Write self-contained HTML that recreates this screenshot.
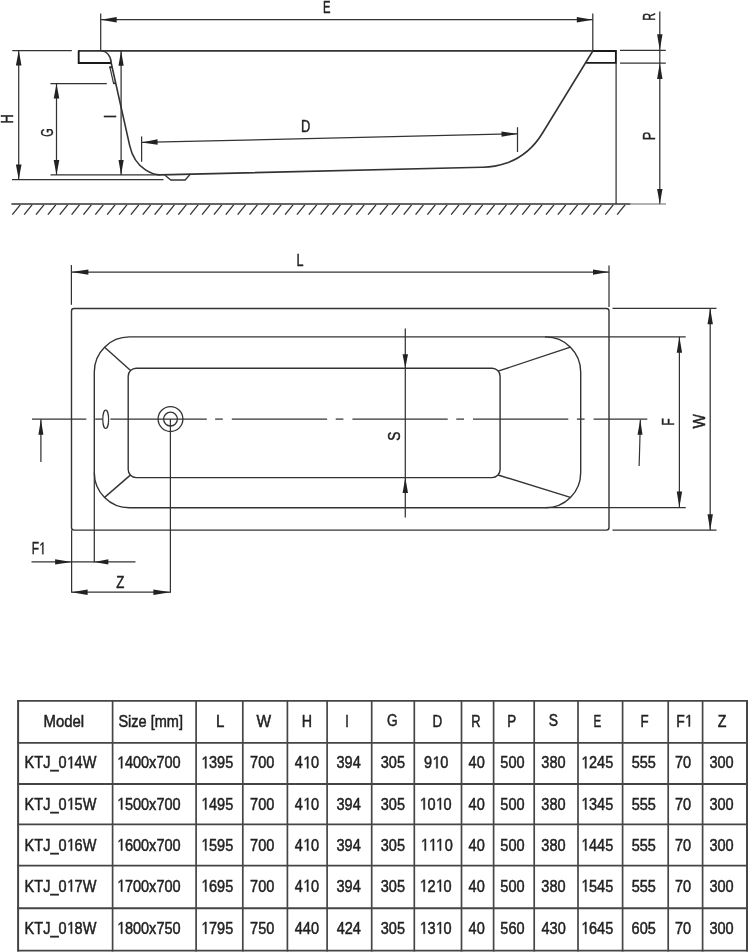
<!DOCTYPE html>
<html><head><meta charset="utf-8"><style>
html,body{margin:0;padding:0;background:#fff;}
body{width:748px;height:952px;overflow:hidden;}
svg{display:block;font-family:"Liberation Sans",sans-serif;filter:grayscale(1);}
</style></head><body>
<svg width="748" height="952" viewBox="0 0 748 952">
<line x1="100.7" y1="13.4" x2="100.7" y2="50.5" stroke="#333" stroke-width="1.25"/>
<line x1="592.8" y1="13.6" x2="592.8" y2="50.5" stroke="#333" stroke-width="1.25"/>
<line x1="100.7" y1="19.7" x2="592.8" y2="19.7" stroke="#333" stroke-width="1.25"/>
<path d="M100.70 19.70L116.70 17.00L116.70 22.40Z" fill="#222"/>
<path d="M592.80 19.70L576.80 22.40L576.80 17.00Z" fill="#222"/>
<text transform="translate(323.12 12.78) scale(0.663 1)" font-size="17" fill="#222" stroke="#222" stroke-width="0.45">E</text>
<line x1="78" y1="50.8" x2="616" y2="50.8" stroke="#333" stroke-width="1.7"/>
<line x1="12.3" y1="50.6" x2="71.8" y2="50.6" stroke="#333" stroke-width="1.25"/>
<path d="M78.7 50.8 L78.7 63 L111.2 63" stroke="#1a1a1a" stroke-width="1.9" fill="none"/>
<path d="M100.7 50.8 A10.5 12.2 0 0 1 111.2 63" stroke="#333" stroke-width="1.5" fill="none"/>
<path d="M109.2 67.2 L112.2 67.2" stroke="#333" stroke-width="1.9" fill="none"/>
<path d="M109.9 67.2 L113.5 83.2" stroke="#333" stroke-width="1.2" fill="none"/>
<path d="M113.0 83.2 L116.0 83.2" stroke="#333" stroke-width="1.9" fill="none"/>
<path d="M111.2 63 L129.75 145.81 C135.41 171.06 155.92 174.95 160.36 174.84 L481.96 167.29 C484.71 167.22 520.47 168.99 542.24 133.48 L592.8 51" stroke="#333" stroke-width="1.6" fill="none"/>
<path d="M592.8 51 L615.9 51 L615.9 62.9 L586.2 62.9" stroke="#1a1a1a" stroke-width="1.9" fill="none"/>
<line x1="616.1" y1="62.9" x2="616.1" y2="204" stroke="#333" stroke-width="1.25"/>
<path d="M164.7 175 L170.8 180 L185.2 180 L190.4 174" stroke="#333" stroke-width="1.3" fill="none"/>
<line x1="50.5" y1="83.6" x2="106.8" y2="83.6" stroke="#333" stroke-width="1.25"/>
<line x1="50.5" y1="174.9" x2="160" y2="174.9" stroke="#333" stroke-width="1.25"/>
<line x1="12" y1="179.6" x2="163.5" y2="179.6" stroke="#333" stroke-width="1.25"/>
<line x1="18.7" y1="50.6" x2="18.7" y2="179.6" stroke="#333" stroke-width="1.25"/>
<path d="M18.70 50.60L21.50 65.60L15.90 65.60Z" fill="#222"/>
<path d="M18.70 179.60L15.90 164.60L21.50 164.60Z" fill="#222"/>
<text transform="translate(12.78 123.39) rotate(-90) scale(0.754 1)" font-size="17" fill="#222" stroke="#222" stroke-width="0.45">H</text>
<line x1="56.5" y1="83.6" x2="56.5" y2="174.9" stroke="#333" stroke-width="1.25"/>
<path d="M56.50 83.60L59.30 98.60L53.70 98.60Z" fill="#222"/>
<path d="M56.50 174.90L53.70 159.90L59.30 159.90Z" fill="#222"/>
<text transform="translate(52.67 136.73) rotate(-90) scale(0.641 1)" font-size="17" fill="#222" stroke="#222" stroke-width="0.45">G</text>
<line x1="121.1" y1="50.8" x2="121.1" y2="174.9" stroke="#333" stroke-width="1.25"/>
<path d="M121.10 50.80L123.70 65.80L118.50 65.80Z" fill="#222"/>
<path d="M121.10 174.90L118.50 159.90L123.70 159.90Z" fill="#222"/>
<text transform="translate(115.58 118.13) rotate(-90) scale(0.750 1)" font-size="17" fill="#222" stroke="#222" stroke-width="0.45">I</text>
<line x1="141.6" y1="136.4" x2="141.6" y2="161.8" stroke="#333" stroke-width="1.25"/>
<line x1="517.5" y1="127.2" x2="517.5" y2="152" stroke="#333" stroke-width="1.25"/>
<line x1="141.6" y1="142.4" x2="517.5" y2="133.8" stroke="#333" stroke-width="1.25"/>
<path d="M141.60 142.40L157.53 139.33L157.66 144.73Z" fill="#222"/>
<path d="M517.50 133.80L501.57 136.87L501.44 131.47Z" fill="#222"/>
<text transform="translate(300.91 131.58) scale(0.758 1)" font-size="17" fill="#222" stroke="#222" stroke-width="0.45">D</text>
<line x1="620" y1="50.3" x2="665.8" y2="50.3" stroke="#333" stroke-width="1.25"/>
<line x1="620" y1="63" x2="665.8" y2="63" stroke="#333" stroke-width="1.25"/>
<line x1="659.8" y1="11.6" x2="659.8" y2="204" stroke="#333" stroke-width="1.25"/>
<path d="M659.80 50.30L657.10 34.30L662.50 34.30Z" fill="#222"/>
<path d="M659.80 63.00L662.50 79.00L657.10 79.00Z" fill="#222"/>
<path d="M659.80 204.00L657.10 189.00L662.50 189.00Z" fill="#222"/>
<text transform="translate(654.57 20.76) rotate(-90) scale(0.645 1)" font-size="17" fill="#222" stroke="#222" stroke-width="0.45">R</text>
<text transform="translate(654.77 140.28) rotate(-90) scale(0.751 1)" font-size="17" fill="#222" stroke="#222" stroke-width="0.45">P</text>
<line x1="11.4" y1="204" x2="630.6" y2="204" stroke="#333" stroke-width="1.7"/>
<line x1="630.6" y1="204" x2="666" y2="204" stroke="#666" stroke-width="1.1"/>
<line x1="12.3" y1="214.7" x2="20.2" y2="204.8" stroke="#333" stroke-width="1.3"/>
<line x1="24.16" y1="214.7" x2="32.06" y2="204.8" stroke="#333" stroke-width="1.3"/>
<line x1="36.02" y1="214.7" x2="43.92" y2="204.8" stroke="#333" stroke-width="1.3"/>
<line x1="47.88" y1="214.7" x2="55.78" y2="204.8" stroke="#333" stroke-width="1.3"/>
<line x1="59.74" y1="214.7" x2="67.64" y2="204.8" stroke="#333" stroke-width="1.3"/>
<line x1="71.6" y1="214.7" x2="79.5" y2="204.8" stroke="#333" stroke-width="1.3"/>
<line x1="83.46" y1="214.7" x2="91.36" y2="204.8" stroke="#333" stroke-width="1.3"/>
<line x1="95.32" y1="214.7" x2="103.22" y2="204.8" stroke="#333" stroke-width="1.3"/>
<line x1="107.18" y1="214.7" x2="115.08" y2="204.8" stroke="#333" stroke-width="1.3"/>
<line x1="119.04" y1="214.7" x2="126.94" y2="204.8" stroke="#333" stroke-width="1.3"/>
<line x1="130.9" y1="214.7" x2="138.8" y2="204.8" stroke="#333" stroke-width="1.3"/>
<line x1="142.76" y1="214.7" x2="150.66" y2="204.8" stroke="#333" stroke-width="1.3"/>
<line x1="154.62" y1="214.7" x2="162.52" y2="204.8" stroke="#333" stroke-width="1.3"/>
<line x1="166.48" y1="214.7" x2="174.38" y2="204.8" stroke="#333" stroke-width="1.3"/>
<line x1="178.34" y1="214.7" x2="186.24" y2="204.8" stroke="#333" stroke-width="1.3"/>
<line x1="190.2" y1="214.7" x2="198.1" y2="204.8" stroke="#333" stroke-width="1.3"/>
<line x1="202.06" y1="214.7" x2="209.96" y2="204.8" stroke="#333" stroke-width="1.3"/>
<line x1="213.92" y1="214.7" x2="221.82" y2="204.8" stroke="#333" stroke-width="1.3"/>
<line x1="225.78" y1="214.7" x2="233.68" y2="204.8" stroke="#333" stroke-width="1.3"/>
<line x1="237.64" y1="214.7" x2="245.54" y2="204.8" stroke="#333" stroke-width="1.3"/>
<line x1="249.5" y1="214.7" x2="257.4" y2="204.8" stroke="#333" stroke-width="1.3"/>
<line x1="261.36" y1="214.7" x2="269.26" y2="204.8" stroke="#333" stroke-width="1.3"/>
<line x1="273.22" y1="214.7" x2="281.12" y2="204.8" stroke="#333" stroke-width="1.3"/>
<line x1="285.08" y1="214.7" x2="292.98" y2="204.8" stroke="#333" stroke-width="1.3"/>
<line x1="296.94" y1="214.7" x2="304.84" y2="204.8" stroke="#333" stroke-width="1.3"/>
<line x1="308.8" y1="214.7" x2="316.7" y2="204.8" stroke="#333" stroke-width="1.3"/>
<line x1="320.66" y1="214.7" x2="328.56" y2="204.8" stroke="#333" stroke-width="1.3"/>
<line x1="332.52" y1="214.7" x2="340.42" y2="204.8" stroke="#333" stroke-width="1.3"/>
<line x1="344.38" y1="214.7" x2="352.28" y2="204.8" stroke="#333" stroke-width="1.3"/>
<line x1="356.24" y1="214.7" x2="364.14" y2="204.8" stroke="#333" stroke-width="1.3"/>
<line x1="368.1" y1="214.7" x2="376.0" y2="204.8" stroke="#333" stroke-width="1.3"/>
<line x1="379.96" y1="214.7" x2="387.86" y2="204.8" stroke="#333" stroke-width="1.3"/>
<line x1="391.82" y1="214.7" x2="399.72" y2="204.8" stroke="#333" stroke-width="1.3"/>
<line x1="403.68" y1="214.7" x2="411.58" y2="204.8" stroke="#333" stroke-width="1.3"/>
<line x1="415.54" y1="214.7" x2="423.44" y2="204.8" stroke="#333" stroke-width="1.3"/>
<line x1="427.4" y1="214.7" x2="435.3" y2="204.8" stroke="#333" stroke-width="1.3"/>
<line x1="439.26" y1="214.7" x2="447.16" y2="204.8" stroke="#333" stroke-width="1.3"/>
<line x1="451.12" y1="214.7" x2="459.02" y2="204.8" stroke="#333" stroke-width="1.3"/>
<line x1="462.98" y1="214.7" x2="470.88" y2="204.8" stroke="#333" stroke-width="1.3"/>
<line x1="474.84" y1="214.7" x2="482.74" y2="204.8" stroke="#333" stroke-width="1.3"/>
<line x1="486.7" y1="214.7" x2="494.6" y2="204.8" stroke="#333" stroke-width="1.3"/>
<line x1="498.56" y1="214.7" x2="506.46" y2="204.8" stroke="#333" stroke-width="1.3"/>
<line x1="510.42" y1="214.7" x2="518.32" y2="204.8" stroke="#333" stroke-width="1.3"/>
<line x1="522.28" y1="214.7" x2="530.18" y2="204.8" stroke="#333" stroke-width="1.3"/>
<line x1="534.14" y1="214.7" x2="542.04" y2="204.8" stroke="#333" stroke-width="1.3"/>
<line x1="546.0" y1="214.7" x2="553.9" y2="204.8" stroke="#333" stroke-width="1.3"/>
<line x1="557.86" y1="214.7" x2="565.76" y2="204.8" stroke="#333" stroke-width="1.3"/>
<line x1="569.72" y1="214.7" x2="577.62" y2="204.8" stroke="#333" stroke-width="1.3"/>
<line x1="581.58" y1="214.7" x2="589.48" y2="204.8" stroke="#333" stroke-width="1.3"/>
<line x1="593.44" y1="214.7" x2="601.34" y2="204.8" stroke="#333" stroke-width="1.3"/>
<line x1="605.3" y1="214.7" x2="613.2" y2="204.8" stroke="#333" stroke-width="1.3"/>
<line x1="617.16" y1="214.7" x2="625.06" y2="204.8" stroke="#333" stroke-width="1.3"/>
<line x1="71.4" y1="265" x2="71.4" y2="304.8" stroke="#333" stroke-width="1.25"/>
<line x1="609.0" y1="265.6" x2="609.0" y2="307.1" stroke="#333" stroke-width="1.25"/>
<line x1="71.4" y1="272.1" x2="609.0" y2="272.1" stroke="#333" stroke-width="1.25"/>
<path d="M71.40 272.10L88.40 269.40L88.40 274.80Z" fill="#222"/>
<path d="M609.00 272.10L593.00 274.80L593.00 269.40Z" fill="#222"/>
<text transform="translate(296.53 265.77) scale(0.742 1)" font-size="17" fill="#222" stroke="#222" stroke-width="0.45">L</text>
<rect x="71.5" y="308.5" width="537.5" height="221.6" rx="2.5" fill="none" stroke="#333" stroke-width="1.4"/>
<rect x="94.3" y="336.9" width="486.4" height="170.8" rx="35" fill="none" stroke="#333" stroke-width="1.4"/>
<rect x="128.2" y="368.2" width="371.9" height="109.4" rx="8" fill="none" stroke="#333" stroke-width="1.4"/>
<line x1="104.6" y1="347.2" x2="130.6" y2="370.6" stroke="#333" stroke-width="1.4"/>
<line x1="104.6" y1="497.4" x2="130.6" y2="474.9" stroke="#333" stroke-width="1.4"/>
<line x1="570.4" y1="347.2" x2="498.0" y2="371.2" stroke="#333" stroke-width="1.4"/>
<line x1="570.4" y1="497.4" x2="498.0" y2="475.0" stroke="#333" stroke-width="1.4"/>
<line x1="545" y1="336.8" x2="685.7" y2="336.8" stroke="#333" stroke-width="1.25"/>
<line x1="545" y1="507.6" x2="685.7" y2="507.6" stroke="#333" stroke-width="1.25"/>
<line x1="612.5" y1="308.3" x2="716.5" y2="308.3" stroke="#333" stroke-width="1.25"/>
<line x1="612.5" y1="530.2" x2="716.5" y2="530.2" stroke="#333" stroke-width="1.25"/>
<line x1="710.2" y1="308.3" x2="710.2" y2="530.2" stroke="#333" stroke-width="1.25"/>
<path d="M710.20 308.30L712.90 324.30L707.50 324.30Z" fill="#222"/>
<path d="M710.20 530.20L707.50 514.20L712.90 514.20Z" fill="#222"/>
<text transform="translate(704.88 428.59) rotate(-90) scale(0.899 1)" font-size="17" fill="#222" stroke="#222" stroke-width="0.45">W</text>
<line x1="679.4" y1="336.8" x2="679.4" y2="507.6" stroke="#333" stroke-width="1.25"/>
<path d="M679.40 336.80L682.10 352.80L676.70 352.80Z" fill="#222"/>
<path d="M679.40 507.60L676.70 491.60L682.10 491.60Z" fill="#222"/>
<text transform="translate(674.17 425.42) rotate(-90) scale(0.697 1)" font-size="17" fill="#222" stroke="#222" stroke-width="0.45">F</text>
<line x1="405.3" y1="328.4" x2="405.3" y2="517.4" stroke="#333" stroke-width="1.25"/>
<path d="M405.30 368.20L402.60 354.20L408.00 354.20Z" fill="#222"/>
<path d="M405.30 477.60L408.00 493.10L402.60 493.10Z" fill="#222"/>
<text transform="translate(399.97 440.66) rotate(-90) scale(0.800 1)" font-size="17" fill="#222" stroke="#222" stroke-width="0.45">S</text>
<line x1="32" y1="419.1" x2="86.3" y2="419.1" stroke="#333" stroke-width="1.25"/>
<line x1="95.2" y1="419.1" x2="102.4" y2="419.1" stroke="#333" stroke-width="1.25"/>
<line x1="110.4" y1="419.1" x2="206.8" y2="419.1" stroke="#333" stroke-width="1.25"/>
<line x1="215.1" y1="419.1" x2="222.8" y2="419.1" stroke="#333" stroke-width="1.25"/>
<line x1="231.8" y1="419.1" x2="327.1" y2="419.1" stroke="#333" stroke-width="1.25"/>
<line x1="335.7" y1="419.1" x2="343.4" y2="419.1" stroke="#333" stroke-width="1.25"/>
<line x1="352.4" y1="419.1" x2="447.7" y2="419.1" stroke="#333" stroke-width="1.25"/>
<line x1="456.3" y1="419.1" x2="464.0" y2="419.1" stroke="#333" stroke-width="1.25"/>
<line x1="473.0" y1="419.1" x2="568.3" y2="419.1" stroke="#333" stroke-width="1.25"/>
<line x1="576.9" y1="419.1" x2="584.6" y2="419.1" stroke="#333" stroke-width="1.25"/>
<line x1="593.6" y1="419.1" x2="647.3" y2="419.1" stroke="#333" stroke-width="1.25"/>
<ellipse cx="105.7" cy="419.3" rx="2.9" ry="9.2" fill="none" stroke="#333" stroke-width="1.2"/>
<circle cx="170.5" cy="419.1" r="12.4" fill="none" stroke="#333" stroke-width="1.3"/>
<circle cx="170.5" cy="419.1" r="6.9" fill="none" stroke="#333" stroke-width="1.3"/>
<line x1="170.4" y1="419.1" x2="170.4" y2="592.7" stroke="#333" stroke-width="1.25"/>
<line x1="71.6" y1="530.2" x2="71.6" y2="592.7" stroke="#333" stroke-width="1.25"/>
<line x1="94.3" y1="472.6" x2="94.3" y2="562.6" stroke="#333" stroke-width="1.25"/>
<line x1="31.5" y1="561.9" x2="135.5" y2="561.9" stroke="#333" stroke-width="1.25"/>
<path d="M71.60 561.90L55.10 564.60L55.10 559.20Z" fill="#222"/>
<path d="M94.30 561.90L108.30 559.20L108.30 564.60Z" fill="#222"/>
<text transform="translate(31.65 554.20) scale(0.700 1)" font-size="17" fill="#222" stroke="#222" stroke-width="0.45">F </text>
<path transform="translate(38.92 554.20) scale(0.00581 -0.00830)" d="M585 0V1237L267 1010V1180L600 1409H766V0Z" fill="#222" stroke="#222" stroke-width="54.2"/>
<line x1="71.6" y1="592.2" x2="170.4" y2="592.2" stroke="#333" stroke-width="1.25"/>
<path d="M71.60 592.20L87.60 589.50L87.60 594.90Z" fill="#222"/>
<path d="M170.40 592.20L153.40 594.90L153.40 589.50Z" fill="#222"/>
<text transform="translate(116.29 588.17) scale(0.782 1)" font-size="17" fill="#222" stroke="#222" stroke-width="0.45">Z</text>
<line x1="40.9" y1="461.9" x2="40.9" y2="419.3" stroke="#333" stroke-width="1.25"/>
<path d="M40.90 419.30L43.40 434.80L38.40 434.80Z" fill="#222"/>
<path d="M639.1 465.9 Q640.0 440 640.3 419.8" stroke="#333" stroke-width="1.2" fill="none"/>
<path d="M640.30 419.80L642.50 434.85L637.50 434.75Z" fill="#222"/>
<line x1="17.200000000000003" y1="700.9" x2="747.9" y2="700.9" stroke="#454545" stroke-width="1.8"/>
<line x1="17.200000000000003" y1="742.8" x2="747.9" y2="742.8" stroke="#454545" stroke-width="1.8"/>
<line x1="17.200000000000003" y1="784.0" x2="747.9" y2="784.0" stroke="#454545" stroke-width="1.8"/>
<line x1="17.200000000000003" y1="824.35" x2="747.9" y2="824.35" stroke="#454545" stroke-width="1.8"/>
<line x1="17.200000000000003" y1="865.65" x2="747.9" y2="865.65" stroke="#454545" stroke-width="1.8"/>
<line x1="17.200000000000003" y1="908.25" x2="747.9" y2="908.25" stroke="#454545" stroke-width="1.8"/>
<line x1="17.200000000000003" y1="950.6" x2="747.9" y2="950.6" stroke="#454545" stroke-width="1.8"/>
<line x1="18.1" y1="700.0" x2="18.1" y2="951.5" stroke="#454545" stroke-width="2.0"/>
<line x1="112.6" y1="700.0" x2="112.6" y2="951.5" stroke="#454545" stroke-width="1.7"/>
<line x1="196.1" y1="700.0" x2="196.1" y2="951.5" stroke="#454545" stroke-width="1.7"/>
<line x1="242.8" y1="700.0" x2="242.8" y2="951.5" stroke="#454545" stroke-width="1.7"/>
<line x1="287.4" y1="700.0" x2="287.4" y2="951.5" stroke="#454545" stroke-width="1.7"/>
<line x1="327.1" y1="700.0" x2="327.1" y2="951.5" stroke="#454545" stroke-width="1.7"/>
<line x1="371.7" y1="700.0" x2="371.7" y2="951.5" stroke="#454545" stroke-width="1.7"/>
<line x1="414.3" y1="700.0" x2="414.3" y2="951.5" stroke="#454545" stroke-width="1.7"/>
<line x1="461.5" y1="700.0" x2="461.5" y2="951.5" stroke="#454545" stroke-width="1.7"/>
<line x1="493.6" y1="700.0" x2="493.6" y2="951.5" stroke="#454545" stroke-width="1.7"/>
<line x1="534.2" y1="700.0" x2="534.2" y2="951.5" stroke="#454545" stroke-width="1.7"/>
<line x1="578" y1="700.0" x2="578" y2="951.5" stroke="#454545" stroke-width="1.7"/>
<line x1="622.6" y1="700.0" x2="622.6" y2="951.5" stroke="#454545" stroke-width="1.7"/>
<line x1="668.2" y1="700.0" x2="668.2" y2="951.5" stroke="#454545" stroke-width="1.7"/>
<line x1="702.6" y1="700.0" x2="702.6" y2="951.5" stroke="#454545" stroke-width="1.7"/>
<line x1="747.0" y1="700.0" x2="747.0" y2="951.5" stroke="#454545" stroke-width="2.0"/>
<text transform="translate(43.46 726.60) scale(0.879 1)" font-size="17" fill="#222" stroke="#222" stroke-width="0.5">Model</text>
<text transform="translate(118.39 726.60) scale(0.855 1)" font-size="17" fill="#222" stroke="#222" stroke-width="0.5">Size [mm]</text>
<text transform="translate(215.98 726.65) scale(0.887 1)" font-size="17" fill="#222" stroke="#222" stroke-width="0.5">L</text>
<text transform="translate(256.44 726.65) scale(0.909 1)" font-size="17" fill="#222" stroke="#222" stroke-width="0.5">W</text>
<text transform="translate(301.73 726.65) scale(0.840 1)" font-size="17" fill="#222" stroke="#222" stroke-width="0.5">H</text>
<text transform="translate(345.29 726.65) scale(0.750 1)" font-size="17" fill="#222" stroke="#222" stroke-width="0.5">I</text>
<text transform="translate(386.98 726.45) scale(0.802 1)" font-size="17" fill="#222" stroke="#222" stroke-width="0.5">G</text>
<text transform="translate(432.39 726.65) scale(0.792 1)" font-size="17" fill="#222" stroke="#222" stroke-width="0.5">D</text>
<text transform="translate(471.13 726.65) scale(0.755 1)" font-size="17" fill="#222" stroke="#222" stroke-width="0.5">R</text>
<text transform="translate(507.19 726.65) scale(0.789 1)" font-size="17" fill="#222" stroke="#222" stroke-width="0.5">P</text>
<text transform="translate(548.85 726.45) scale(0.816 1)" font-size="17" fill="#222" stroke="#222" stroke-width="0.5">S</text>
<text transform="translate(593.42 726.65) scale(0.680 1)" font-size="17" fill="#222" stroke="#222" stroke-width="0.5">E</text>
<text transform="translate(640.40 726.65) scale(0.784 1)" font-size="17" fill="#222" stroke="#222" stroke-width="0.5">F</text>
<text transform="translate(676.21 726.60) scale(0.820 1)" font-size="17" fill="#222" stroke="#222" stroke-width="0.5">F </text>
<path transform="translate(684.73 726.60) scale(0.00681 -0.00830)" d="M585 0V1237L267 1010V1180L600 1409H766V0Z" fill="#222" stroke="#222" stroke-width="60.2"/>
<text transform="translate(717.79 726.65) scale(0.838 1)" font-size="17" fill="#222" stroke="#222" stroke-width="0.5">Z</text>
<text transform="translate(24.59 768.30) scale(0.855 1)" font-size="17" fill="#222" stroke="#222" stroke-width="0.5">KTJ_0 4W</text>
<path transform="translate(66.60 768.30) scale(0.00710 -0.00830)" d="M585 0V1237L267 1010V1180L600 1409H766V0Z" fill="#222" stroke="#222" stroke-width="60.2"/>
<text transform="translate(116.82 768.30) scale(0.855 1)" font-size="17" fill="#222" stroke="#222" stroke-width="0.5"> 400x700</text>
<path transform="translate(116.82 768.30) scale(0.00710 -0.00830)" d="M585 0V1237L267 1010V1180L600 1409H766V0Z" fill="#222" stroke="#222" stroke-width="60.2"/>
<text transform="translate(200.94 768.30) scale(0.855 1)" font-size="17" fill="#222" stroke="#222" stroke-width="0.5"> 395</text>
<path transform="translate(200.94 768.30) scale(0.00710 -0.00830)" d="M585 0V1237L267 1010V1180L600 1409H766V0Z" fill="#222" stroke="#222" stroke-width="60.2"/>
<text transform="translate(250.07 768.30) scale(0.855 1)" font-size="17" fill="#222" stroke="#222" stroke-width="0.5">700</text>
<text transform="translate(294.79 768.30) scale(0.855 1)" font-size="17" fill="#222" stroke="#222" stroke-width="0.5">4 0</text>
<path transform="translate(302.87 768.30) scale(0.00710 -0.00830)" d="M585 0V1237L267 1010V1180L600 1409H766V0Z" fill="#222" stroke="#222" stroke-width="60.2"/>
<text transform="translate(336.52 768.30) scale(0.855 1)" font-size="17" fill="#222" stroke="#222" stroke-width="0.5">394</text>
<text transform="translate(380.80 768.30) scale(0.855 1)" font-size="17" fill="#222" stroke="#222" stroke-width="0.5">305</text>
<text transform="translate(424.07 768.30) scale(0.855 1)" font-size="17" fill="#222" stroke="#222" stroke-width="0.5">9 0</text>
<path transform="translate(432.15 768.30) scale(0.00710 -0.00830)" d="M585 0V1237L267 1010V1180L600 1409H766V0Z" fill="#222" stroke="#222" stroke-width="60.2"/>
<text transform="translate(468.61 768.30) scale(0.855 1)" font-size="17" fill="#222" stroke="#222" stroke-width="0.5">40</text>
<text transform="translate(500.36 768.30) scale(0.855 1)" font-size="17" fill="#222" stroke="#222" stroke-width="0.5">500</text>
<text transform="translate(541.36 768.30) scale(0.855 1)" font-size="17" fill="#222" stroke="#222" stroke-width="0.5">380</text>
<text transform="translate(580.94 768.30) scale(0.855 1)" font-size="17" fill="#222" stroke="#222" stroke-width="0.5"> 245</text>
<path transform="translate(580.94 768.30) scale(0.00710 -0.00830)" d="M585 0V1237L267 1010V1180L600 1409H766V0Z" fill="#222" stroke="#222" stroke-width="60.2"/>
<text transform="translate(631.65 768.30) scale(0.855 1)" font-size="17" fill="#222" stroke="#222" stroke-width="0.5">555</text>
<text transform="translate(675.04 768.30) scale(0.855 1)" font-size="17" fill="#222" stroke="#222" stroke-width="0.5">70</text>
<text transform="translate(709.46 768.30) scale(0.855 1)" font-size="17" fill="#222" stroke="#222" stroke-width="0.5">300</text>
<text transform="translate(24.59 809.60) scale(0.855 1)" font-size="17" fill="#222" stroke="#222" stroke-width="0.5">KTJ_0 5W</text>
<path transform="translate(66.60 809.60) scale(0.00710 -0.00830)" d="M585 0V1237L267 1010V1180L600 1409H766V0Z" fill="#222" stroke="#222" stroke-width="60.2"/>
<text transform="translate(116.82 809.60) scale(0.855 1)" font-size="17" fill="#222" stroke="#222" stroke-width="0.5"> 500x700</text>
<path transform="translate(116.82 809.60) scale(0.00710 -0.00830)" d="M585 0V1237L267 1010V1180L600 1409H766V0Z" fill="#222" stroke="#222" stroke-width="60.2"/>
<text transform="translate(200.94 809.60) scale(0.855 1)" font-size="17" fill="#222" stroke="#222" stroke-width="0.5"> 495</text>
<path transform="translate(200.94 809.60) scale(0.00710 -0.00830)" d="M585 0V1237L267 1010V1180L600 1409H766V0Z" fill="#222" stroke="#222" stroke-width="60.2"/>
<text transform="translate(250.07 809.60) scale(0.855 1)" font-size="17" fill="#222" stroke="#222" stroke-width="0.5">700</text>
<text transform="translate(294.79 809.60) scale(0.855 1)" font-size="17" fill="#222" stroke="#222" stroke-width="0.5">4 0</text>
<path transform="translate(302.87 809.60) scale(0.00710 -0.00830)" d="M585 0V1237L267 1010V1180L600 1409H766V0Z" fill="#222" stroke="#222" stroke-width="60.2"/>
<text transform="translate(336.52 809.60) scale(0.855 1)" font-size="17" fill="#222" stroke="#222" stroke-width="0.5">394</text>
<text transform="translate(380.80 809.60) scale(0.855 1)" font-size="17" fill="#222" stroke="#222" stroke-width="0.5">305</text>
<text transform="translate(419.40 809.60) scale(0.855 1)" font-size="17" fill="#222" stroke="#222" stroke-width="0.5"> 0 0</text>
<path transform="translate(419.40 809.60) scale(0.00710 -0.00830)" d="M585 0V1237L267 1010V1180L600 1409H766V0Z" fill="#222" stroke="#222" stroke-width="60.2"/>
<path transform="translate(435.57 809.60) scale(0.00710 -0.00830)" d="M585 0V1237L267 1010V1180L600 1409H766V0Z" fill="#222" stroke="#222" stroke-width="60.2"/>
<text transform="translate(468.61 809.60) scale(0.855 1)" font-size="17" fill="#222" stroke="#222" stroke-width="0.5">40</text>
<text transform="translate(500.36 809.60) scale(0.855 1)" font-size="17" fill="#222" stroke="#222" stroke-width="0.5">500</text>
<text transform="translate(541.36 809.60) scale(0.855 1)" font-size="17" fill="#222" stroke="#222" stroke-width="0.5">380</text>
<text transform="translate(580.94 809.60) scale(0.855 1)" font-size="17" fill="#222" stroke="#222" stroke-width="0.5"> 345</text>
<path transform="translate(580.94 809.60) scale(0.00710 -0.00830)" d="M585 0V1237L267 1010V1180L600 1409H766V0Z" fill="#222" stroke="#222" stroke-width="60.2"/>
<text transform="translate(631.65 809.60) scale(0.855 1)" font-size="17" fill="#222" stroke="#222" stroke-width="0.5">555</text>
<text transform="translate(675.04 809.60) scale(0.855 1)" font-size="17" fill="#222" stroke="#222" stroke-width="0.5">70</text>
<text transform="translate(709.46 809.60) scale(0.855 1)" font-size="17" fill="#222" stroke="#222" stroke-width="0.5">300</text>
<text transform="translate(24.59 850.60) scale(0.855 1)" font-size="17" fill="#222" stroke="#222" stroke-width="0.5">KTJ_0 6W</text>
<path transform="translate(66.60 850.60) scale(0.00710 -0.00830)" d="M585 0V1237L267 1010V1180L600 1409H766V0Z" fill="#222" stroke="#222" stroke-width="60.2"/>
<text transform="translate(116.82 850.60) scale(0.855 1)" font-size="17" fill="#222" stroke="#222" stroke-width="0.5"> 600x700</text>
<path transform="translate(116.82 850.60) scale(0.00710 -0.00830)" d="M585 0V1237L267 1010V1180L600 1409H766V0Z" fill="#222" stroke="#222" stroke-width="60.2"/>
<text transform="translate(200.94 850.60) scale(0.855 1)" font-size="17" fill="#222" stroke="#222" stroke-width="0.5"> 595</text>
<path transform="translate(200.94 850.60) scale(0.00710 -0.00830)" d="M585 0V1237L267 1010V1180L600 1409H766V0Z" fill="#222" stroke="#222" stroke-width="60.2"/>
<text transform="translate(250.07 850.60) scale(0.855 1)" font-size="17" fill="#222" stroke="#222" stroke-width="0.5">700</text>
<text transform="translate(294.79 850.60) scale(0.855 1)" font-size="17" fill="#222" stroke="#222" stroke-width="0.5">4 0</text>
<path transform="translate(302.87 850.60) scale(0.00710 -0.00830)" d="M585 0V1237L267 1010V1180L600 1409H766V0Z" fill="#222" stroke="#222" stroke-width="60.2"/>
<text transform="translate(336.52 850.60) scale(0.855 1)" font-size="17" fill="#222" stroke="#222" stroke-width="0.5">394</text>
<text transform="translate(380.80 850.60) scale(0.855 1)" font-size="17" fill="#222" stroke="#222" stroke-width="0.5">305</text>
<text transform="translate(420.51 850.60) scale(0.855 1)" font-size="17" fill="#222" stroke="#222" stroke-width="0.5">   0</text>
<path transform="translate(420.51 850.60) scale(0.00710 -0.00830)" d="M585 0V1237L267 1010V1180L600 1409H766V0Z" fill="#222" stroke="#222" stroke-width="60.2"/>
<path transform="translate(428.59 850.60) scale(0.00710 -0.00830)" d="M585 0V1237L267 1010V1180L600 1409H766V0Z" fill="#222" stroke="#222" stroke-width="60.2"/>
<path transform="translate(435.60 850.60) scale(0.00710 -0.00830)" d="M585 0V1237L267 1010V1180L600 1409H766V0Z" fill="#222" stroke="#222" stroke-width="60.2"/>
<text transform="translate(468.61 850.60) scale(0.855 1)" font-size="17" fill="#222" stroke="#222" stroke-width="0.5">40</text>
<text transform="translate(500.36 850.60) scale(0.855 1)" font-size="17" fill="#222" stroke="#222" stroke-width="0.5">500</text>
<text transform="translate(541.36 850.60) scale(0.855 1)" font-size="17" fill="#222" stroke="#222" stroke-width="0.5">380</text>
<text transform="translate(580.94 850.60) scale(0.855 1)" font-size="17" fill="#222" stroke="#222" stroke-width="0.5"> 445</text>
<path transform="translate(580.94 850.60) scale(0.00710 -0.00830)" d="M585 0V1237L267 1010V1180L600 1409H766V0Z" fill="#222" stroke="#222" stroke-width="60.2"/>
<text transform="translate(631.65 850.60) scale(0.855 1)" font-size="17" fill="#222" stroke="#222" stroke-width="0.5">555</text>
<text transform="translate(675.04 850.60) scale(0.855 1)" font-size="17" fill="#222" stroke="#222" stroke-width="0.5">70</text>
<text transform="translate(709.46 850.60) scale(0.855 1)" font-size="17" fill="#222" stroke="#222" stroke-width="0.5">300</text>
<text transform="translate(24.59 891.50) scale(0.855 1)" font-size="17" fill="#222" stroke="#222" stroke-width="0.5">KTJ_0 7W</text>
<path transform="translate(66.60 891.50) scale(0.00710 -0.00830)" d="M585 0V1237L267 1010V1180L600 1409H766V0Z" fill="#222" stroke="#222" stroke-width="60.2"/>
<text transform="translate(116.82 891.50) scale(0.855 1)" font-size="17" fill="#222" stroke="#222" stroke-width="0.5"> 700x700</text>
<path transform="translate(116.82 891.50) scale(0.00710 -0.00830)" d="M585 0V1237L267 1010V1180L600 1409H766V0Z" fill="#222" stroke="#222" stroke-width="60.2"/>
<text transform="translate(200.94 891.50) scale(0.855 1)" font-size="17" fill="#222" stroke="#222" stroke-width="0.5"> 695</text>
<path transform="translate(200.94 891.50) scale(0.00710 -0.00830)" d="M585 0V1237L267 1010V1180L600 1409H766V0Z" fill="#222" stroke="#222" stroke-width="60.2"/>
<text transform="translate(250.07 891.50) scale(0.855 1)" font-size="17" fill="#222" stroke="#222" stroke-width="0.5">700</text>
<text transform="translate(294.79 891.50) scale(0.855 1)" font-size="17" fill="#222" stroke="#222" stroke-width="0.5">4 0</text>
<path transform="translate(302.87 891.50) scale(0.00710 -0.00830)" d="M585 0V1237L267 1010V1180L600 1409H766V0Z" fill="#222" stroke="#222" stroke-width="60.2"/>
<text transform="translate(336.52 891.50) scale(0.855 1)" font-size="17" fill="#222" stroke="#222" stroke-width="0.5">394</text>
<text transform="translate(380.80 891.50) scale(0.855 1)" font-size="17" fill="#222" stroke="#222" stroke-width="0.5">305</text>
<text transform="translate(419.40 891.50) scale(0.855 1)" font-size="17" fill="#222" stroke="#222" stroke-width="0.5"> 2 0</text>
<path transform="translate(419.40 891.50) scale(0.00710 -0.00830)" d="M585 0V1237L267 1010V1180L600 1409H766V0Z" fill="#222" stroke="#222" stroke-width="60.2"/>
<path transform="translate(435.57 891.50) scale(0.00710 -0.00830)" d="M585 0V1237L267 1010V1180L600 1409H766V0Z" fill="#222" stroke="#222" stroke-width="60.2"/>
<text transform="translate(468.61 891.50) scale(0.855 1)" font-size="17" fill="#222" stroke="#222" stroke-width="0.5">40</text>
<text transform="translate(500.36 891.50) scale(0.855 1)" font-size="17" fill="#222" stroke="#222" stroke-width="0.5">500</text>
<text transform="translate(541.36 891.50) scale(0.855 1)" font-size="17" fill="#222" stroke="#222" stroke-width="0.5">380</text>
<text transform="translate(580.94 891.50) scale(0.855 1)" font-size="17" fill="#222" stroke="#222" stroke-width="0.5"> 545</text>
<path transform="translate(580.94 891.50) scale(0.00710 -0.00830)" d="M585 0V1237L267 1010V1180L600 1409H766V0Z" fill="#222" stroke="#222" stroke-width="60.2"/>
<text transform="translate(631.65 891.50) scale(0.855 1)" font-size="17" fill="#222" stroke="#222" stroke-width="0.5">555</text>
<text transform="translate(675.04 891.50) scale(0.855 1)" font-size="17" fill="#222" stroke="#222" stroke-width="0.5">70</text>
<text transform="translate(709.46 891.50) scale(0.855 1)" font-size="17" fill="#222" stroke="#222" stroke-width="0.5">300</text>
<text transform="translate(24.59 933.70) scale(0.855 1)" font-size="17" fill="#222" stroke="#222" stroke-width="0.5">KTJ_0 8W</text>
<path transform="translate(66.60 933.70) scale(0.00710 -0.00830)" d="M585 0V1237L267 1010V1180L600 1409H766V0Z" fill="#222" stroke="#222" stroke-width="60.2"/>
<text transform="translate(116.82 933.70) scale(0.855 1)" font-size="17" fill="#222" stroke="#222" stroke-width="0.5"> 800x750</text>
<path transform="translate(116.82 933.70) scale(0.00710 -0.00830)" d="M585 0V1237L267 1010V1180L600 1409H766V0Z" fill="#222" stroke="#222" stroke-width="60.2"/>
<text transform="translate(200.94 933.70) scale(0.855 1)" font-size="17" fill="#222" stroke="#222" stroke-width="0.5"> 795</text>
<path transform="translate(200.94 933.70) scale(0.00710 -0.00830)" d="M585 0V1237L267 1010V1180L600 1409H766V0Z" fill="#222" stroke="#222" stroke-width="60.2"/>
<text transform="translate(250.07 933.70) scale(0.855 1)" font-size="17" fill="#222" stroke="#222" stroke-width="0.5">750</text>
<text transform="translate(294.79 933.70) scale(0.855 1)" font-size="17" fill="#222" stroke="#222" stroke-width="0.5">440</text>
<text transform="translate(336.65 933.70) scale(0.855 1)" font-size="17" fill="#222" stroke="#222" stroke-width="0.5">424</text>
<text transform="translate(380.80 933.70) scale(0.855 1)" font-size="17" fill="#222" stroke="#222" stroke-width="0.5">305</text>
<text transform="translate(419.40 933.70) scale(0.855 1)" font-size="17" fill="#222" stroke="#222" stroke-width="0.5"> 3 0</text>
<path transform="translate(419.40 933.70) scale(0.00710 -0.00830)" d="M585 0V1237L267 1010V1180L600 1409H766V0Z" fill="#222" stroke="#222" stroke-width="60.2"/>
<path transform="translate(435.57 933.70) scale(0.00710 -0.00830)" d="M585 0V1237L267 1010V1180L600 1409H766V0Z" fill="#222" stroke="#222" stroke-width="60.2"/>
<text transform="translate(468.61 933.70) scale(0.855 1)" font-size="17" fill="#222" stroke="#222" stroke-width="0.5">40</text>
<text transform="translate(500.36 933.70) scale(0.855 1)" font-size="17" fill="#222" stroke="#222" stroke-width="0.5">560</text>
<text transform="translate(541.49 933.70) scale(0.855 1)" font-size="17" fill="#222" stroke="#222" stroke-width="0.5">430</text>
<text transform="translate(580.94 933.70) scale(0.855 1)" font-size="17" fill="#222" stroke="#222" stroke-width="0.5"> 645</text>
<path transform="translate(580.94 933.70) scale(0.00710 -0.00830)" d="M585 0V1237L267 1010V1180L600 1409H766V0Z" fill="#222" stroke="#222" stroke-width="60.2"/>
<text transform="translate(631.57 933.70) scale(0.855 1)" font-size="17" fill="#222" stroke="#222" stroke-width="0.5">605</text>
<text transform="translate(675.04 933.70) scale(0.855 1)" font-size="17" fill="#222" stroke="#222" stroke-width="0.5">70</text>
<text transform="translate(709.46 933.70) scale(0.855 1)" font-size="17" fill="#222" stroke="#222" stroke-width="0.5">300</text>
</svg>
</body></html>
